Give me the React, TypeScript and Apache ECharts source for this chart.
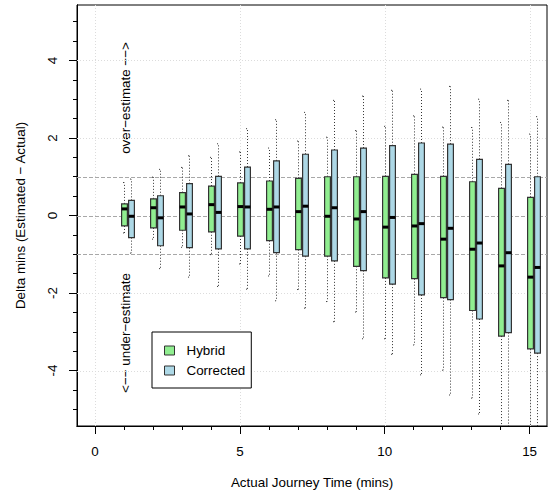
import React, { useEffect, useRef } from "react";
import * as echarts from "echarts";

// Actual journey time groups (mins)
const journeyTimes = [1, 2, 3, 4, 5, 6, 7, 8, 9, 10, 11, 12, 13, 14, 15];

// Hybrid: whisker low, Q1, median, Q3, whisker high
const hybridLow = [-0.45, -0.61, -0.82, -1.01, -1.25, -1.56, -1.91, -2.22, -2.49, -3.18, -3.34, -3.99, -4.71, -5.6, -6.0];
const hybridQ1 = [-0.27, -0.32, -0.38, -0.42, -0.53, -0.65, -0.88, -1.05, -1.31, -1.61, -1.63, -2.12, -2.45, -3.11, -3.44];
const hybridMed = [0.17, 0.2, 0.22, 0.28, 0.23, 0.16, 0.1, -0.02, -0.09, -0.3, -0.27, -0.61, -0.87, -1.3, -1.59];
const hybridQ3 = [0.3, 0.43, 0.59, 0.76, 0.84, 0.89, 0.96, 1.0, 1.0, 1.01, 1.06, 1.01, 0.87, 0.7, 0.47];
const hybridHigh = [0.85, 0.99, 1.24, 1.5, 1.64, 1.74, 1.92, 2.02, 2.19, 2.3, 2.57, 2.28, 2.27, 2.4, 2.1];

// Corrected
const correctedLow = [-0.97, -1.37, -1.59, -1.83, -1.9, -2.2, -2.39, -2.74, -3.18, -3.58, -4.11, -4.63, -5.12, -5.8, -6.2];
const correctedQ1 = [-0.57, -0.78, -0.83, -0.86, -0.86, -0.96, -1.05, -1.17, -1.42, -1.77, -2.05, -2.17, -2.67, -3.02, -3.55];
const correctedMed = [-0.02, -0.06, 0.04, 0.08, 0.22, 0.22, 0.24, 0.2, 0.1, -0.05, -0.21, -0.33, -0.71, -0.96, -1.34];
const correctedQ3 = [0.39, 0.51, 0.82, 1.01, 1.25, 1.41, 1.58, 1.69, 1.74, 1.8, 1.87, 1.84, 1.45, 1.32, 1.0];
const correctedHigh = [0.94, 1.19, 1.54, 1.85, 2.24, 2.47, 2.66, 2.97, 3.08, 3.23, 3.26, 3.33, 3.0, 2.97, 2.55];

// Axis ticks / grid lines
const xMajorTicks = [0, 5, 10, 15];
const xMinorTicks = [0, 1, 2, 3, 4, 5, 6, 7, 8, 9, 10, 11, 12, 13, 14, 15];
const yMajorTicks = [-4, -2, 0, 2, 4];
const yMinorTicks = [-5, -4.5, -4, -3.5, -3, -2.5, -2, -1.5, -1, -0.5, 0, 0.5, 1, 1.5, 2, 2.5, 3, 3.5, 4, 4.5, 5];
const gridX = [0, 5, 10, 15];
const gridY = [-4, -2, 2, 4];
const refY = [-1, 0, 1];

const X_MIN = -0.62;
const X_MAX = 15.6;
const Y_MIN = -5.43;
const Y_MAX = 5.43;

const FONT = "'Liberation Sans', Arial, Helvetica, sans-serif";
const FS = 13.4;

function makeBoxData(low: number[], q1: number[], med: number[], q3: number[], high: number[]) {
  return journeyTimes.map((t, i) => [t, low[i], q1[i], med[i], q3[i], high[i]]);
}

function boxRenderer(offset: number) {
  return (params: any, api: any) => {
    const x = api.value(0) + offset;
    const cs = params.coordSys;
    const top = cs.y;
    const bottom = cs.y + cs.height;
    const clamp = (v: number) => Math.max(top, Math.min(bottom, v));
    const cx = Math.round(api.coord([x, 0])[0]) + 0.5;
    const yLow = api.coord([x, api.value(1)])[1];
    const yQ1 = api.coord([x, api.value(2)])[1];
    const yMed = api.coord([x, api.value(3)])[1];
    const yQ3 = api.coord([x, api.value(4)])[1];
    const yHigh = api.coord([x, api.value(5)])[1];
    const w = api.size([0.2, 0])[0];
    const half = w / 2;
    const capHalf = half * 0.5;
    const dot = { stroke: "#333", lineWidth: 1, lineDash: [1, 2] };
    const children: any[] = [
      { type: "line", shape: { x1: cx, y1: yQ3, x2: cx, y2: clamp(yHigh) }, style: dot },
      { type: "line", shape: { x1: cx, y1: yQ1, x2: cx, y2: clamp(yLow) }, style: dot },
    ];
    if (yHigh >= top) {
      children.push({ type: "line", shape: { x1: cx - capHalf, y1: yHigh, x2: cx + capHalf, y2: yHigh }, style: dot });
    }
    if (yLow <= bottom) {
      children.push({ type: "line", shape: { x1: cx - capHalf, y1: yLow, x2: cx + capHalf, y2: yLow }, style: dot });
    }
    children.push({
      type: "rect",
      shape: { x: cx - half, y: yQ3, width: w, height: yQ1 - yQ3 },
      style: { fill: api.visual("color"), stroke: "#333", lineWidth: 1.2 },
    });
    children.push({
      type: "line",
      shape: { x1: cx - half, y1: yMed, x2: cx + half, y2: yMed },
      style: { stroke: "#000", lineWidth: 3 },
    });
    return { type: "group", children };
  };
}

export default function App() {
  const ref = useRef<HTMLDivElement>(null);

  useEffect(() => {
    if (!ref.current) return;
    const chart = echarts.init(ref.current, null, { renderer: "svg" });

    const gridLineData = [
      ...gridX.map((v) => ["x", v, "dot"]),
      ...gridY.map((v) => ["y", v, "dot"]),
      ...refY.map((v) => ["y", v, "dash"]),
    ];

    const axisLine = { show: true, onZero: false, lineStyle: { color: "#000", width: 1 } };

    const option: any = {
      animation: false,
      backgroundColor: "#fff",
      textStyle: { fontFamily: FONT },
      grid: {
        left: 77,
        top: 5,
        right: 3,
        bottom: 69,
        show: true,
        borderColor: "#000",
        borderWidth: 1,
        backgroundColor: "transparent",
      },
      legend: {
        left: 152,
        top: 332,
        orient: "vertical",
        backgroundColor: "#fff",
        borderColor: "#000",
        borderWidth: 1,
        borderRadius: 0,
        padding: [12, 6, 11, 12],
        itemGap: 7,
        itemWidth: 10,
        itemHeight: 9,
        icon: "rect",
        itemStyle: { borderColor: "#333", borderWidth: 1 },
        textStyle: { fontFamily: FONT, fontSize: FS, color: "#000", padding: [0, 0, 0, 7] },
        data: ["Hybrid", "Corrected"],
      },
      xAxis: [
        {
          type: "value",
          min: X_MIN,
          max: X_MAX,
          name: "Actual Journey Time (mins)",
          nameLocation: "middle",
          nameGap: 50,
          nameTextStyle: { fontFamily: FONT, fontSize: FS, color: "#000" },
          axisLine,
          axisTick: { show: true, inside: false, length: 8, customValues: xMajorTicks, lineStyle: { color: "#000", width: 1 } },
          axisLabel: { customValues: xMajorTicks, margin: 19, fontFamily: FONT, fontSize: FS, color: "#000" },
          splitLine: { show: false },
        },
        {
          type: "value",
          min: X_MIN,
          max: X_MAX,
          position: "bottom",
          axisLine,
          axisTick: { show: true, inside: false, length: 4, customValues: xMinorTicks, lineStyle: { color: "#000", width: 1 } },
          axisLabel: { show: false },
          splitLine: { show: false },
        },
      ],
      yAxis: [
        {
          type: "value",
          min: Y_MIN,
          max: Y_MAX,
          name: "Delta mins (Estimated − Actual)",
          nameLocation: "middle",
          nameGap: 50,
          nameTextStyle: { fontFamily: FONT, fontSize: FS, color: "#000" },
          axisLine,
          axisTick: { show: true, inside: false, length: 8, customValues: yMajorTicks, lineStyle: { color: "#000", width: 1 } },
          axisLabel: { customValues: yMajorTicks, rotate: 90, margin: 18, fontFamily: FONT, fontSize: FS, color: "#000" },
          splitLine: { show: false },
        },
        {
          type: "value",
          min: Y_MIN,
          max: Y_MAX,
          position: "left",
          axisLine,
          axisTick: { show: true, inside: false, length: 4, customValues: yMinorTicks, lineStyle: { color: "#000", width: 1 } },
          axisLabel: { show: false },
          splitLine: { show: false },
        },
      ],
      series: [
        {
          type: "custom",
          name: "grid",
          silent: true,
          z: 1,
          data: gridLineData,
          renderItem: (params: any, api: any) => {
            const item = gridLineData[params.dataIndex];
            const cs = params.coordSys;
            const v = item[1] as number;
            if (item[0] === "x") {
              const px = Math.round(api.coord([v, 0])[0]) + 0.5;
              return {
                type: "line",
                shape: { x1: px, y1: cs.y, x2: px, y2: cs.y + cs.height },
                style: { stroke: "#dcdcdc", lineWidth: 1, lineDash: [1, 2] },
              };
            }
            const py = Math.round(api.coord([0, v])[1]) + 0.5;
            const dash = item[2] === "dash";
            return {
              type: "line",
              shape: { x1: cs.x, y1: py, x2: cs.x + cs.width, y2: py },
              style: dash
                ? { stroke: "#a8a8a8", lineWidth: 1, lineDash: [4, 2] }
                : { stroke: "#dcdcdc", lineWidth: 1, lineDash: [1, 2] },
            };
          },
          encode: { x: -1, y: -1 },
        },
        {
          type: "custom",
          name: "Hybrid",
          z: 2,
          itemStyle: { color: "#90EE90", borderColor: "#333", borderWidth: 1 },
          data: makeBoxData(hybridLow, hybridQ1, hybridMed, hybridQ3, hybridHigh),
          renderItem: boxRenderer(0),
          encode: { x: 0, y: [1, 2, 3, 4, 5] },
        },
        {
          type: "custom",
          name: "Corrected",
          z: 2,
          itemStyle: { color: "#ADD8E6", borderColor: "#333", borderWidth: 1 },
          data: makeBoxData(correctedLow, correctedQ1, correctedMed, correctedQ3, correctedHigh),
          renderItem: boxRenderer(0.25),
          encode: { x: 0, y: [1, 2, 3, 4, 5] },
        },
      ],
      graphic: [
        {
          type: "text",
          x: 125,
          y: 98,
          rotation: Math.PI / 2,
          style: {
            text: "over−estimate −−>",
            fontFamily: FONT,
            fontSize: FS,
            fill: "#000",
            textAlign: "center",
            textVerticalAlign: "middle",
          },
        },
        {
          type: "text",
          x: 125,
          y: 333,
          rotation: Math.PI / 2,
          style: {
            text: "<−− under−estimate",
            fontFamily: FONT,
            fontSize: FS,
            fill: "#000",
            textAlign: "center",
            textVerticalAlign: "middle",
          },
        },
      ],
    };

    chart.setOption(option);
    return () => {
      chart.dispose();
    };
  }, []);

  return (
    <div
      ref={ref}
      style={{ position: "absolute", left: 0, top: 0, width: 550, height: 495, background: "#fff" }}
    />
  );
}
